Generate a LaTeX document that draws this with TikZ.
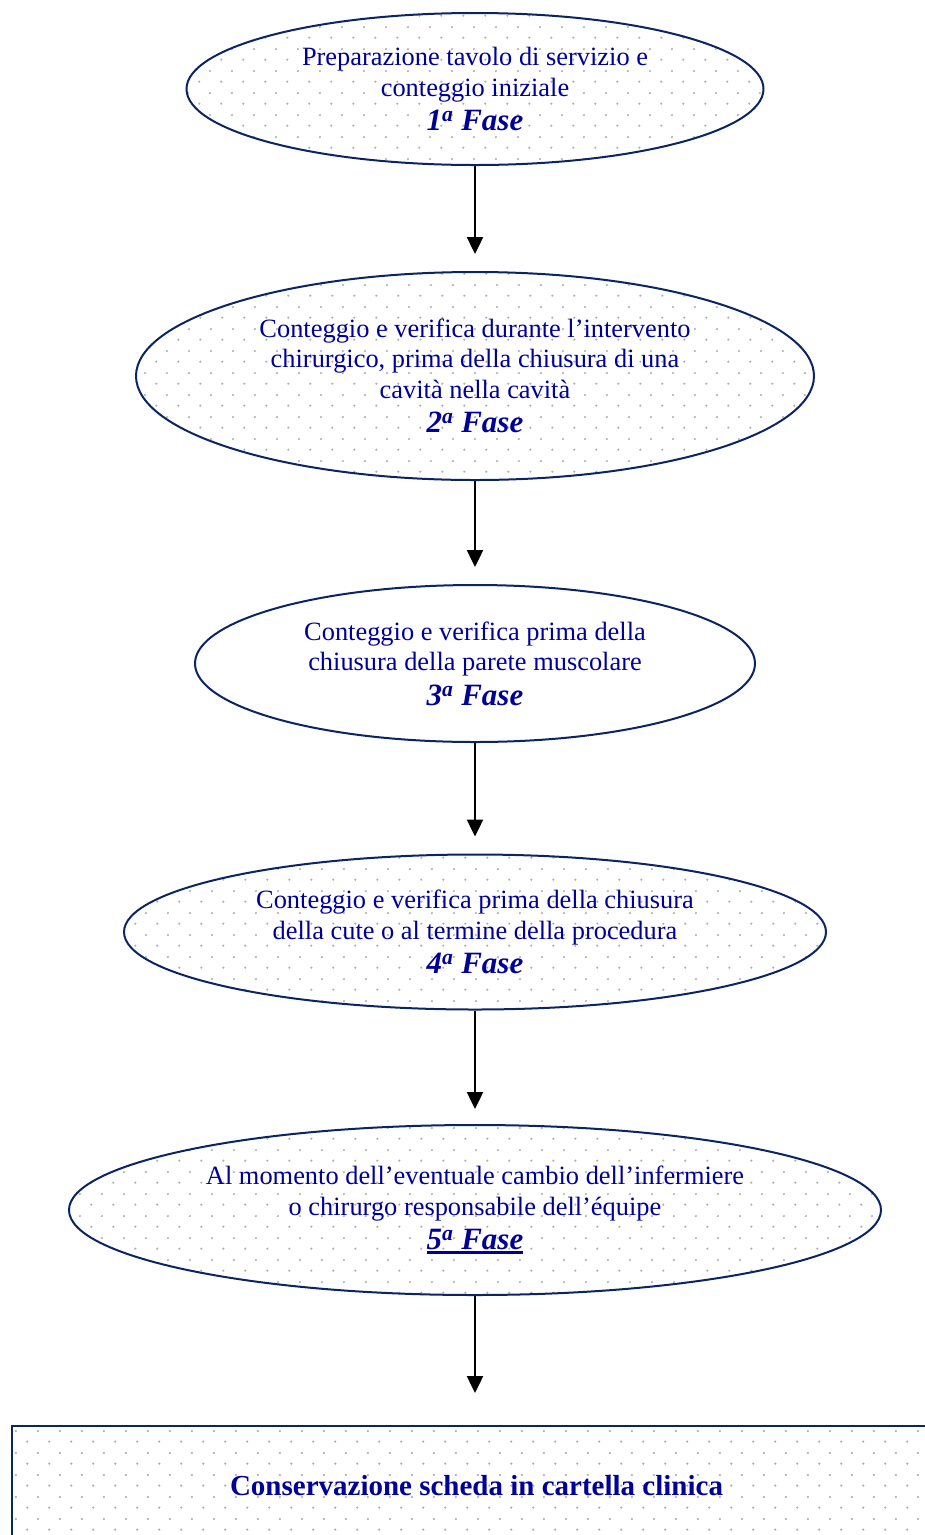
\documentclass[tikz,border=0pt]{standalone}
\usepackage{fontspec}
\setmainfont{Liberation Serif}
\usetikzlibrary{shapes.geometric,arrows.meta,patterns}
\definecolor{txtblue}{RGB}{0,0,153}
\definecolor{edgeblue}{RGB}{10,36,100}
\definecolor{dotgray}{RGB}{175,175,175}
\pgfdeclarepatternformonly{sparsedots}{\pgfpointorigin}{\pgfpoint{21.6pt}{21.6pt}}{\pgfpoint{21.6pt}{21.6pt}}{%
  \pgfpathcircle{\pgfpoint{5.4pt}{5.4pt}}{1.25pt}%
  \pgfpathcircle{\pgfpoint{16.2pt}{16.2pt}}{1.25pt}%
  \pgfusepath{fill}}
\newcommand{\fasetext}[1]{{\fontsize{31}{34}\selectfont\bfseries\itshape #1\textsuperscript{a} Fase}}
\newcommand{\faseul}[1]{{\fontsize{31}{34}\selectfont\bfseries\itshape
  \setbox0\hbox{#1\textsuperscript{a} Fase}\rlap{\color{txtblue}\rule[-4.5pt]{\wd0}{2.6pt}}\box0}}
\tikzset{
  phase/.style={ellipse, draw=edgeblue, line width=2pt, inner sep=0pt, align=center,
    text=txtblue, font=\fontsize{26.4}{30.5}\selectfont},
  dotfill/.style={pattern=sparsedots, pattern color=dotgray},
  flowarrow/.style={draw=black, line width=2.4pt, -{Triangle[width=16pt,length=17pt]}, shorten >=#1},
  flowarrow/.default=17pt,
  endbox/.style={rectangle, draw=edgeblue, line width=2pt, inner sep=0pt, align=center,
    text=txtblue, font=\fontsize{29}{34}\selectfont\bfseries}
}
\begin{document}
\begin{tikzpicture}[x=1pt,y=-1pt]
\useasboundingbox (0,0) rectangle (925,1535);
\clip (0,0) rectangle (925,1535);
\node[phase, dotfill, minimum width=577, minimum height=152] (p1) at (475,89)
  {Preparazione tavolo di servizio e\\conteggio iniziale\\[4pt]\fasetext{1}};
\node[phase, dotfill, minimum width=678, minimum height=208] (p2) at (475,376)
  {Conteggio e verifica durante l’intervento\\chirurgico, prima della chiusura di una\\cavità nella cavità\\[4pt]\fasetext{2}};
\node[phase, fill=white, minimum width=560, minimum height=157] (p3) at (475,663.5)
  {Conteggio e verifica prima della\\chiusura della parete muscolare\\[4pt]\fasetext{3}};
\node[phase, dotfill, minimum width=702, minimum height=155] (p4) at (475,932)
  {Conteggio e verifica prima della chiusura\\della cute o al termine della procedura\\[4pt]\fasetext{4}};
\node[phase, dotfill, minimum width=812, minimum height=170] (p5) at (475,1210)
  {Al momento dell’eventuale cambio dell’infermiere\\o chirurgo responsabile dell’équipe\\[4pt]\faseul{5}};
\node[endbox, dotfill, minimum width=929, minimum height=120, anchor=north west] (cons) at (11,1425)
  {Conservazione scheda in cartella clinica};
\draw[flowarrow] (p1.south) -- (p2.north);
\draw[flowarrow] (p2.south) -- (p3.north);
\draw[flowarrow] (p3.south) -- (p4.north);
\draw[flowarrow=15pt] (p4.south) -- (p5.north);
\draw[flowarrow=32pt] (p5.south) -- (p5.south |- cons.north);
\end{tikzpicture}
\end{document}
